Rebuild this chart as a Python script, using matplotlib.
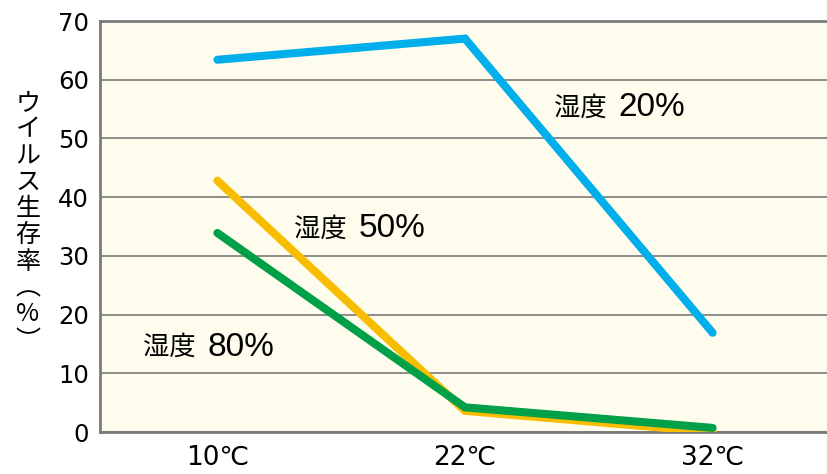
import numpy as np
import matplotlib
matplotlib.use("Agg")
import matplotlib.pyplot as plt

plt.rcParams['font.family'] = ['Noto Sans CJK JP', 'DejaVu Sans']

temps = ["10℃", "22℃", "32℃"]
hum20 = [63.4, 67.0, 16.9]
hum50 = [42.8, 3.6, 0.0]
hum80 = [33.9, 4.2, 0.7]
y_ticks = [0, 10, 20, 30, 40, 50, 60, 70]
ylabel_chars = ["ウ", "イ", "ル", "ス", "生", "存", "率", "︵", "%", "︶"]

fig = plt.figure(figsize=(8.28, 4.74), dpi=100)
ax = fig.add_axes([100/828, 1 - 432/474, 1 - 100/828, (432 - 21)/474])
ax.set_facecolor("#fefcec")

x = np.arange(len(temps))
lw = 5.8
ax.plot(x, hum50, color="#f9bd00", lw=lw, solid_capstyle="round", solid_joinstyle="miter", zorder=3)
ax.plot(x, hum80, color="#00a049", lw=lw, solid_capstyle="round", solid_joinstyle="miter", zorder=4)
ax.plot(x, hum20, color="#00aeeb", lw=lw, solid_capstyle="round", solid_joinstyle="miter", zorder=5)

ax.set_xlim(-0.474, 2.466)
ax.set_ylim(0, 70)
ax.set_yticks(y_ticks)
ax.set_xticks(x)
ax.set_xticklabels(temps, fontsize=19, family=['DejaVu Sans', 'Noto Sans CJK JP'])
ax.set_yticklabels([str(v) for v in y_ticks], fontsize=17.5, family='DejaVu Sans')
ax.tick_params(length=0, pad=8)
ax.tick_params(axis='x', pad=9)
ax.grid(axis='y', color="#7a7a7a", lw=1.2, zorder=1)
ax.set_axisbelow(True)

for side in ["left", "bottom", "top"]:
    ax.spines[side].set_color("#7a7a7a")
    ax.spines[side].set_linewidth(2)
ax.spines["right"].set_visible(False)

# labels next to the lines
def hum_label(xp, yp, num):
    t = ax.text(xp, yp, "湿度  ", fontsize=19, va="center", ha="left")
    fig.canvas.draw()
    bb = t.get_window_extent().transformed(ax.transData.inverted())
    ax.text(bb.x1, yp, num, fontsize=24, va="center", ha="left", family='Liberation Sans')

hum_label(1.36, 55.2, "20%")
hum_label(0.31, 34.6, "50%")
hum_label(-0.30, 14.4, "80%")

fig.text(28/828, 1 - 222/474, "\n".join(ylabel_chars), fontsize=18, ha="center", va="center", linespacing=1.02)

fig.savefig("out.png", dpi=100)
